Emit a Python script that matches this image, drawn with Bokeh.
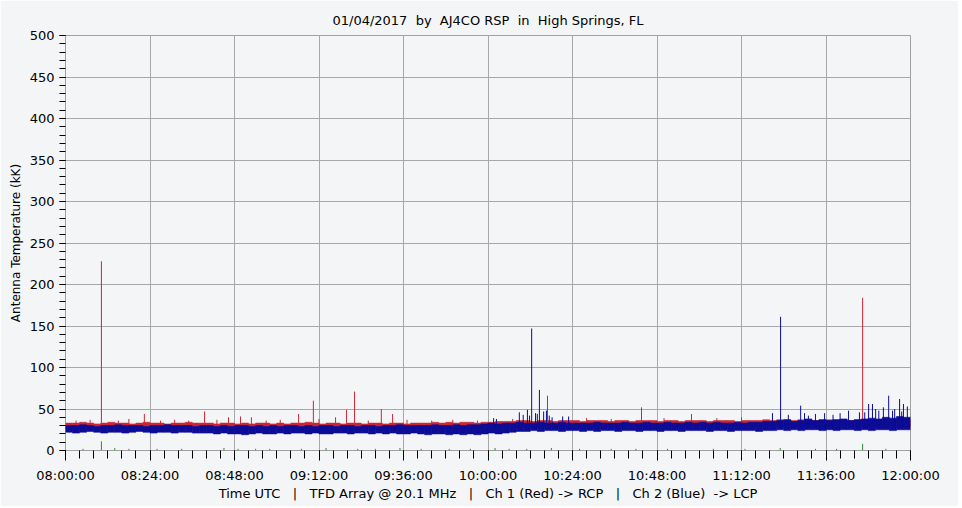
from bokeh.plotting import figure
from bokeh.models import FixedTicker, Range1d
from bokeh.embed import file_html
from bokeh.resources import INLINE

S = "\u00a0"  # keeps the doubled spaces of the original texts
TITLE = "01/04/2017" + S + " by" + S + " AJ4CO RSP" + S + " in" + S + " High Springs, FL"
X_LABEL = ("Time UTC" + S * 2 + " |" + S * 2 + " TFD Array @ 20.1 MHz" + S * 2 + " |" + S * 2 +
           " Ch 1 (Red) -> RCP" + S * 2 + " |" + S * 2 + " Ch 2 (Blue)" + S + " -> LCP")
Y_LABEL = "Antenna Temperature (kK)"

# x in minutes after 08:00 UTC
tick_minutes = [0, 24, 48, 72, 96, 120, 144, 168, 192, 216, 240]
tick_labels = ["08:00:00", "08:24:00", "08:48:00", "09:12:00", "09:36:00", "10:00:00",
               "10:24:00", "10:48:00", "11:12:00", "11:36:00", "12:00:00"]

# 2-minute bins: noise envelope of each channel (kK)
bin_start = list(range(0, 240, 2))

blue_lo = [22, 21, 22, 23, 22, 21, 22, 22, 21, 22, 23, 22, 21, 22, 22, 21, 22, 22, 21, 21,
           21, 20, 21, 20, 20, 19, 20, 21, 20, 20, 21, 20, 21, 21, 20, 21, 20, 20, 21, 21,
           20, 21, 21, 20, 21, 20, 21, 20, 20, 21,
           20, 19, 20, 20, 19, 20, 19, 20, 19, 20, 21, 20, 21,
           22, 23, 23, 24, 23, 24, 24, 23, 24, 24, 23, 24, 23, 24, 24, 23, 24, 24, 23, 24,
           24, 23, 24, 24, 23, 24, 24, 24, 23, 24, 24, 23, 24, 24, 24, 23, 24,
           24, 25, 24, 25, 24, 25, 25, 24, 25, 24, 25, 25, 24, 25, 24, 25, 25, 24, 25, 25]

blue_hi = [30, 30, 31, 30, 29, 30, 30, 31, 30, 30, 30, 29, 30, 30, 31, 30, 30, 30, 29, 30,
           30, 29, 30, 29, 30, 30, 29, 30, 29, 30, 29, 30, 30, 29, 30, 29, 30, 30, 29, 30,
           30, 29, 30, 30, 29, 30, 30, 31, 30, 30,
           30, 30, 31, 30, 30, 31, 30, 31, 31, 32, 33, 32, 33,
           33, 34, 33, 33, 34, 33, 33, 34, 33, 33, 33, 33, 34, 33, 33, 33, 34, 33, 33, 34,
           33, 33, 34, 33, 33, 34, 33, 34, 33, 34, 33, 33, 34, 33, 34, 34, 35,
           35, 36, 37, 35, 36, 38, 36, 37, 36, 37, 38, 36, 37, 38, 39, 38, 40, 39, 41, 40]

red_lo = [26, 26, 27, 26, 26, 26, 27, 26, 26, 26, 26, 26, 27, 26, 26, 26, 26, 27, 26, 26,
          26, 25, 26, 26, 25, 26, 26, 26, 25, 26, 26, 26, 25, 26, 26, 26, 25, 26, 26, 26,
          26, 25, 26, 26, 26, 25, 26, 26, 26, 26,
          25, 26, 26, 25, 26, 26, 25, 26, 26, 26, 27, 27, 27,
          28, 28, 29, 28, 28, 29, 28, 28, 29, 28, 28, 29, 28, 28, 29, 28, 28, 29, 28, 28,
          29, 28, 28, 29, 28, 28, 29, 28, 28, 29, 28, 28, 29, 28, 28, 29, 28,
          29, 29, 30, 29, 29, 30, 29, 29, 30, 29, 29, 30, 29, 29, 30, 29, 29, 30, 29, 29]

red_hi = [33, 33, 34, 33, 32, 33, 34, 33, 33, 32, 33, 34, 33, 33, 32, 33, 33, 34, 33, 33,
          33, 32, 33, 33, 32, 33, 32, 33, 33, 32, 33, 32, 33, 33, 34, 33, 32, 33, 33, 32,
          33, 33, 32, 33, 33, 32, 33, 33, 32, 33,
          33, 33, 34, 33, 34, 33, 34, 34, 33, 34, 34, 35, 35,
          35, 36, 36, 35, 36, 36, 35, 36, 36, 36, 35, 36, 36, 36, 35, 36, 36, 35, 36, 36,
          36, 35, 36, 36, 35, 36, 36, 36, 35, 36, 36, 36, 35, 36, 36, 36, 37,
          36, 37, 37, 36, 37, 37, 36, 37, 37, 37, 37, 36, 37, 37, 37, 36, 37, 37, 37, 37]

# isolated spikes (minutes after 08:00, peak kK)
red_spike_t = [10.2, 22.4, 39.5, 46.3, 49.7, 52.8, 66.2, 70.4, 76.7, 79.8, 82.1, 89.7, 92.9,
               136.9, 163.6, 177.8, 226.4,
               3, 7, 15, 18, 27, 31, 35, 43, 57, 61, 72, 86, 97, 104, 110, 117, 127, 148,
               155, 170, 185, 192]
red_spike_v = [228, 44, 47, 40, 41, 40, 44, 60, 40, 49, 71, 50, 44,
               66, 52, 44, 184,
               36, 37, 36, 38, 36, 37, 36, 37, 36, 37, 38, 36, 37, 36, 37, 36, 38, 39,
               38, 39, 39, 40]

blue_spike_t = [121.6, 122.4, 128.9, 130.0, 131.2, 131.8, 132.4, 133.5, 134.0, 134.6, 135.8,
                136.6, 137.4, 138.2, 141.2, 142.9,
                200.8, 203.1, 205.3, 208.8, 209.9, 211.0, 213.0, 215.6, 218.0, 220.0, 222.4,
                225.5, 227.0, 228.1, 229.2, 230.1, 231.0, 232.3, 233.8, 234.9, 235.5, 236.9,
                237.5, 238.0, 239.1]
blue_spike_v = [39, 38, 46, 43, 49, 42, 147, 45, 44, 73, 47,
                48, 42, 40, 41, 41,
                45, 161, 43, 54, 45, 42, 44, 45, 43, 45, 48,
                46, 46, 56, 56, 50, 48, 52, 66, 48, 50, 62,
                47, 56, 53]

green_t = [5, 10.2, 14, 18, 26, 33, 45, 49, 54, 58, 67, 74, 83, 88, 95, 101, 109, 115, 122,
           126, 131, 138, 146, 155, 162, 171, 184, 193, 203, 213, 219, 226.4, 233]
green_v = [2, 11, 3, 2, 2, 2, 3, 2, 2, 2, 2, 3, 2, 2, 3, 2, 2, 2, 3,
           2, 2, 3, 2, 2, 2, 2, 2, 2, 3, 2, 2, 8, 2]

BG = "#f4f5f7"
RED = "#cc2633"
BLUE = "#0c0c96"
GREEN = "#2e8b2e"
GRID = "#a8a8a8"
FONT = "DejaVu Sans"

p = figure(frame_width=845, frame_height=415,
           x_range=Range1d(0, 240), y_range=Range1d(0, 500),
           output_backend="svg", toolbar_location=None,
           min_border_left=65, min_border_right=48, min_border_top=35, min_border_bottom=56,
           background_fill_color=BG, border_fill_color=BG, title=TITLE)

p.title.align = "center"
p.title.text_font = FONT
p.title.text_font_size = "13px"
p.title.text_font_style = "normal"
p.title.text_color = "black"
p.title.standoff = 15

centers = [b + 1 for b in bin_start]
p.vbar(x=centers, width=2, bottom=red_lo, top=red_hi, color=RED, line_width=0.6)
p.segment(x0=red_spike_t, y0=[30] * len(red_spike_t), x1=red_spike_t, y1=red_spike_v,
          line_color=RED, line_width=1)
p.vbar(x=centers, width=2, bottom=blue_lo, top=blue_hi, color=BLUE, line_width=0.6)
p.segment(x0=blue_spike_t, y0=[28] * len(blue_spike_t), x1=blue_spike_t, y1=blue_spike_v,
          line_color=BLUE, line_width=1)
p.segment(x0=green_t, y0=[0] * len(green_t), x1=green_t, y1=green_v,
          line_color=GREEN, line_width=1)

xt = FixedTicker(ticks=tick_minutes, minor_ticks=list(range(0, 241, 4)))
yt = FixedTicker(ticks=list(range(0, 501, 50)), minor_ticks=list(range(0, 501, 10)))
p.xaxis.ticker = xt
p.yaxis.ticker = yt
p.xgrid.ticker = xt
p.ygrid.ticker = yt
p.xaxis.major_label_overrides = {t: l for t, l in zip(tick_minutes, tick_labels)}

for g in (p.xgrid, p.ygrid):
    g.grid_line_color = GRID
    g.grid_line_width = 1
    g.grid_line_alpha = 1.0

for ax in (p.xaxis, p.yaxis):
    ax.axis_line_color = None
    ax.major_tick_line_color = "black"
    ax.minor_tick_line_color = "black"
    ax.major_tick_in = 0
    ax.minor_tick_in = 0
    ax.major_label_text_font = FONT
    ax.major_label_text_font_size = "13px"
    ax.major_label_text_color = "black"
    ax.axis_label_text_font = FONT
    ax.axis_label_text_font_size = "13px"
    ax.axis_label_text_font_style = "normal"
    ax.axis_label_text_color = "black"

p.xaxis.major_tick_out = 10
p.xaxis.minor_tick_out = 8
p.xaxis.major_label_standoff = 7
p.xaxis.axis_label = X_LABEL
p.xaxis.axis_label_standoff = 0

p.yaxis.major_tick_out = 6
p.yaxis.minor_tick_out = 6
p.yaxis.major_label_standoff = 5
p.yaxis.axis_label = Y_LABEL
p.yaxis.axis_label_text_font_size = "12px"
p.yaxis.axis_label_standoff = 4

p.outline_line_color = "#a0a0a0"
p.outline_line_width = 1

html = file_html(p, INLINE)
html = html.replace("<body>", '<body style="background:%s">' % BG, 1)
open("out.html", "w").write(html)
